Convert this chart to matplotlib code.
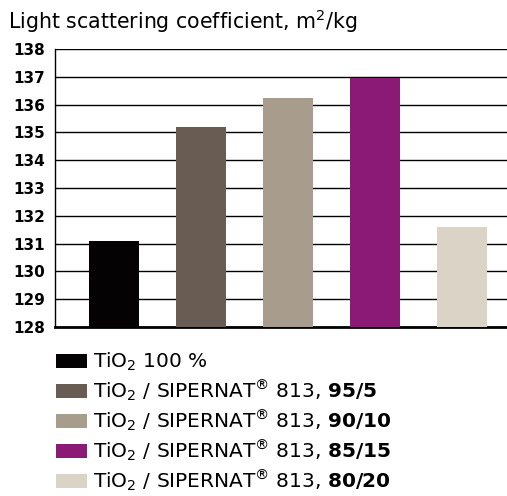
import numpy as np
import matplotlib
matplotlib.use('Agg')
import matplotlib.pyplot as plt

plt.rcParams['font.family'] = ['DejaVu Sans']
plt.rcParams['mathtext.fontset'] = 'dejavusans'

labels = [r'TiO$_2$ 100 %',
          r'TiO$_2$ / SIPERNAT$^{®}$ 813, $\mathbf{95/5}$',
          r'TiO$_2$ / SIPERNAT$^{®}$ 813, $\mathbf{90/10}$',
          r'TiO$_2$ / SIPERNAT$^{®}$ 813, $\mathbf{85/15}$',
          r'TiO$_2$ / SIPERNAT$^{®}$ 813, $\mathbf{80/20}$']
values = [131.1, 135.2, 136.25, 136.95, 131.6]
colors = ['#050203', '#695c53', '#a89c8c', '#8a1a76', '#dbd3c6']
yticks = list(range(128, 139))

fig = plt.figure(figsize=(5.07, 4.96), dpi=100)
ax = fig.add_axes([55/507, 1-327/496, 1-55/507, (327-49)/496])

x = np.arange(len(values))
bars = ax.bar(x, values - np.array(128), bottom=128, width=0.575, color=colors, zorder=3)

ax.set_ylim(128, 138)
ax.set_xlim(-0.68, 4.52)
ax.set_yticks(yticks)
ax.set_yticklabels([str(t) for t in yticks], fontweight='bold', fontsize=11)
ax.set_xticks([])
ax.tick_params(axis='y', length=0, pad=7)
ax.grid(axis='y', color='black', linewidth=1, zorder=0)
for s in ['top', 'right']:
    ax.spines[s].set_visible(False)
ax.spines['left'].set_linewidth(1)
ax.spines['bottom'].set_linewidth(2)

fig.text(8/507, 1-21/496, 'Light scattering coefficient, m$^2$/kg', fontsize=14.8,
         va='center', ha='left')

ax.legend(bars, labels, loc='upper left', bbox_to_anchor=(56/507, 1-351/496),
          bbox_transform=fig.transFigure, frameon=False, fontsize=14.5,
          handlelength=1.55, handleheight=0.75, handletextpad=0.3, labelspacing=0.225,
          borderaxespad=0, borderpad=0)

fig.savefig('out.png', dpi=100)
